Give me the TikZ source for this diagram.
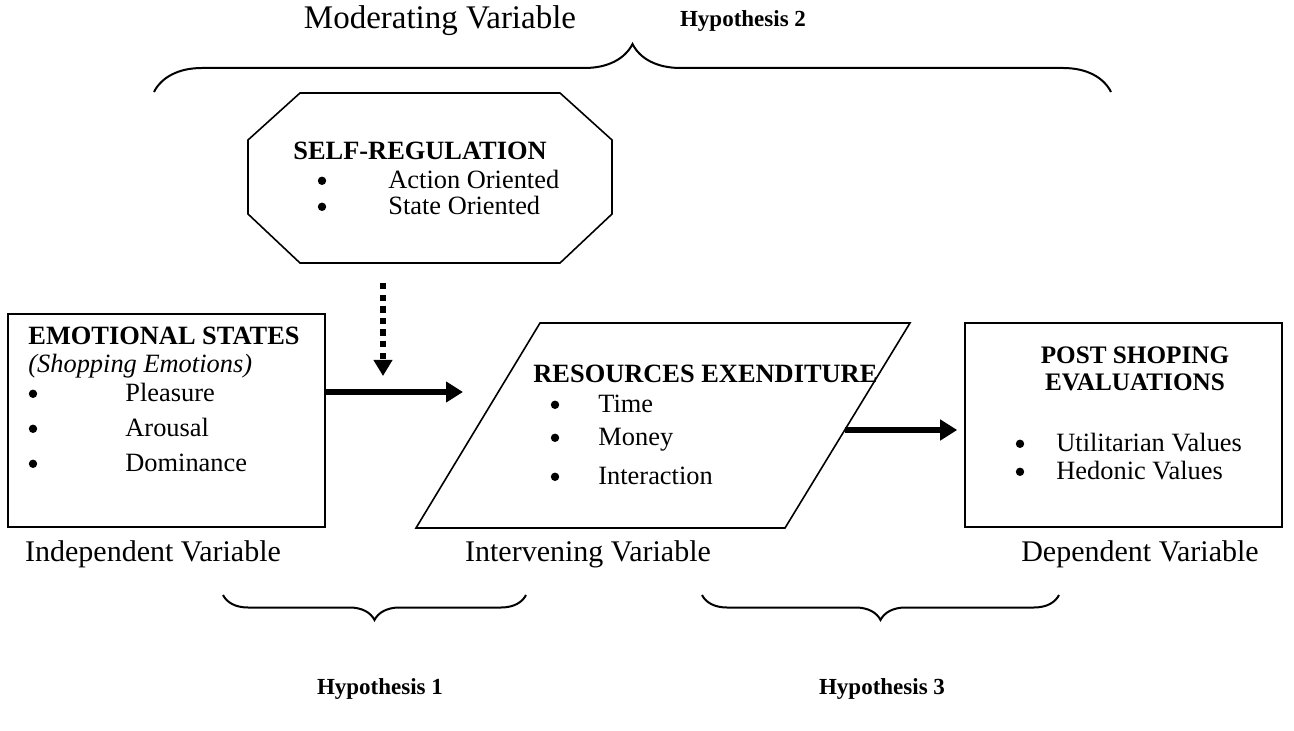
\documentclass[tikz,border=0pt]{standalone}
\usepackage{fontspec}
\setmainfont{Liberation Serif}
\usetikzlibrary{arrows.meta,decorations.pathreplacing}

\begin{document}
\begin{tikzpicture}[x=0.5pt,y=-0.5pt,
        itemtext/.style={font=\fontsize{13.2}{15}\selectfont, anchor=mid west, inner sep=0pt},
        headtext/.style={font=\fontsize{13.2}{15}\selectfont\bfseries, inner sep=0pt},
        dot/.style={circle, fill, inner sep=0pt, minimum size=4.2pt, yshift=1.6pt},
        vartext/.style={font=\fontsize{15}{17}\selectfont, anchor=mid, inner sep=0pt},
        hyptext/.style={font=\fontsize{11.5}{13}\selectfont\bfseries, anchor=mid, inner sep=0pt},
        frame/.style={draw, line width=0.8pt},
        bigarrow/.style={line width=3.2pt, -{Triangle[width=10pt,length=8.5pt]}},
        dotarrow/.style={line width=3pt, dash pattern=on 3.2pt off 2.6pt, -{Triangle[width=9pt,length=8pt]}},
        curly/.style={line width=1pt, decorate, decoration={brace, amplitude=#1}}]

        \useasboundingbox (0,0) rectangle (1294,731);

        \node[vartext, font=\fontsize{16.5}{19}\selectfont] (modvar) at (440,24) {Moderating Variable};
        \node[hyptext] (hyptwo) at (743,22) {Hypothesis 2};
        \draw[curly=24pt] (154,92) -- (1111,92);

        \draw[frame] (300,93) -- (560,93) -- (612,140) -- (612,214) -- (560,263)
            -- (300,263) -- (248,214) -- (248,140) -- cycle;
        \node[headtext, anchor=mid west] (selfreg) at (293,155) {SELF-REGULATION};
        \node[dot] (srdotone) at (322,184) {};
        \node[itemtext] (action) at (388,184) {Action Oriented};
        \node[dot] (srdottwo) at (322,210) {};
        \node[itemtext] (state) at (388,210) {State Oriented};

        \coordinate (dottop) at (383,283);
        \coordinate (dotend) at (383,376);
        \draw[dotarrow] (dottop) -- (dotend);

        \node[frame, minimum width=158.5pt, minimum height=106.5pt, inner sep=0pt] (emo) at (166.5,420.5) {};
        \node[headtext, anchor=mid west] (emohead) at (28,340) {EMOTIONAL STATES};
        \node[itemtext, font=\fontsize{13.2}{15}\selectfont\itshape] (emosub) at (28,368) {(Shopping Emotions)};
        \node[dot] (emodotone) at (33,397) {};
        \node[itemtext] (pleasure) at (125,397) {Pleasure};
        \node[dot] (emodottwo) at (33,432) {};
        \node[itemtext] (arousal) at (125,432) {Arousal};
        \node[dot] (emodotthree) at (33,467) {};
        \node[itemtext] (dominance) at (125,467) {Dominance};

        \coordinate (resin) at (463,392);
        \draw[bigarrow] (emo.east |- resin) -- (resin);

        \draw[frame] (540,323) -- (910,323) -- (785,528) -- (416,528) -- cycle;
        \node[headtext, anchor=mid west] (reshead) at (533,378) {RESOURCES EXENDITURE};
        \node[dot] (resdotone) at (555,408) {};
        \node[itemtext] (time) at (598,408) {Time};
        \node[dot] (resdottwo) at (555,441) {};
        \node[itemtext] (money) at (598,441) {Money};
        \node[dot] (resdotthree) at (555,480) {};
        \node[itemtext] (interaction) at (598,480) {Interaction};

        \node[frame, minimum width=158.5pt, minimum height=102pt, inner sep=0pt] (post) at (1123.5,425) {};
        \coordinate (resout) at (845,430);
        \draw[bigarrow, line width=2.6pt, shorten >=3.5pt] (resout) -- (post.west |- resout);
        \node[headtext, font=\fontsize{12.6}{14}\selectfont\bfseries] (posthead) at (1135,355) {POST SHOPING};
        \node[headtext, font=\fontsize{12.6}{14}\selectfont\bfseries] (posteval) at (1135,382) {EVALUATIONS};
        \node[dot] (postdotone) at (1020,447) {};
        \node[itemtext] (utilitarian) at (1056,447) {Utilitarian Values};
        \node[dot] (postdottwo) at (1020,475) {};
        \node[itemtext] (hedonic) at (1056,475) {Hedonic Values};

        \node[vartext] (indep) at (153,557) {Independent Variable};
        \node[vartext] (interv) at (588,557) {Intervening Variable};
        \node[vartext] (dep) at (1140,557) {Dependent Variable};

        \draw[curly=12.5pt] (526,595) -- (223,595);
        \draw[curly=12.5pt] (1059,595) -- (702,595);
        \node[hyptext] (hypone) at (380,690) {Hypothesis 1};
        \node[hyptext] (hypthree) at (882,690) {Hypothesis 3};
    \end{tikzpicture}
\end{document}
